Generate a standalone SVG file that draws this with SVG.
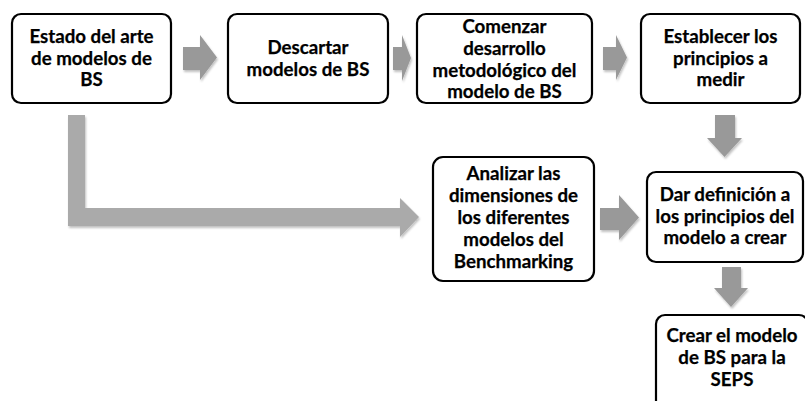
<svg xmlns="http://www.w3.org/2000/svg" width="805" height="401" viewBox="0 0 805 401">
<defs>
<style>
.box{fill:#fff;stroke:#000;stroke-width:2.2}
.t{font-family:Lato,"Liberation Sans",sans-serif;font-weight:bold;font-size:18.7px;fill:#000;stroke:#000;stroke-width:0.25;text-anchor:middle}
.ar{fill:#999999}
.al{fill:#aaaaaa}
</style>
<filter id="sh" x="-10%" y="-10%" width="130%" height="130%">
<feGaussianBlur in="SourceAlpha" stdDeviation="1.2"/>
<feOffset dx="1" dy="1.5" result="b"/>
<feComponentTransfer><feFuncA type="linear" slope="0.25"/></feComponentTransfer>
<feMerge><feMergeNode/><feMergeNode in="SourceGraphic"/></feMerge>
</filter>
</defs>
<rect width="805" height="401" fill="#fff"/>
<g id="connectors" filter="url(#sh)">
<polygon class="ar" points="183,47 200,47 200,35 217,57.5 200,80 200,70 183,70"/>
<polygon class="ar" points="393,47 402,47 402,35 411,58 402,81 402,70 393,70"/>
<polygon class="ar" points="603,47 616,47 616,35 627,57.5 616,80 616,70 603,70"/>
<polygon class="ar" points="715,115 735,115 735,138 742,138 724.5,157 707,138 715,138"/>
<polygon class="ar" points="600,208 619,208 619,195 639,217.5 619,240 619,230 600,230"/>
<polygon class="ar" points="722,267 741,267 741,288 748,288 731,307 714,288 722,288"/>
<polygon class="al" points="68,115 85,115 85,208 400,208 400,198 419,217 400,237 400,226 68,226"/>
</g>
<g id="n1">
<rect class="box" x="12" y="14" width="159" height="89" rx="9"/>
<text class="t" x="91.5" y="42.7">Estado del arte</text>
<text class="t" x="91.5" y="64.5">de modelos de</text>
<text class="t" x="91.5" y="86">BS</text>
</g>
<g id="n2">
<rect class="box" x="228" y="14" width="160" height="89" rx="9"/>
<text class="t" x="308" y="54">Descartar</text>
<text class="t" x="308" y="76">modelos de BS</text>
</g>
<g id="n3">
<rect class="box" x="417" y="14" width="175" height="89" rx="9"/>
<text class="t" x="504.5" y="33">Comenzar</text>
<text class="t" x="504.5" y="55">desarrollo</text>
<text class="t" x="504.5" y="76.5">metodológico del</text>
<text class="t" x="504.5" y="98">modelo de BS</text>
</g>
<g id="n4">
<rect class="box" x="641" y="14" width="159" height="89" rx="9"/>
<text class="t" x="720.5" y="43">Establecer los</text>
<text class="t" x="720.5" y="65">principios a</text>
<text class="t" x="720.5" y="86">medir</text>
</g>
<g id="n5">
<rect class="box" x="433" y="157" width="161" height="124" rx="10"/>
<text class="t" x="513.5" y="180">Analizar las</text>
<text class="t" x="513.5" y="202">dimensiones de</text>
<text class="t" x="513.5" y="224">los diferentes</text>
<text class="t" x="513.5" y="246">modelos del</text>
<text class="t" x="513.5" y="268">Benchmarking</text>
</g>
<g id="n6">
<rect class="box" x="647" y="172" width="156" height="90" rx="9"/>
<text class="t" x="725" y="201">Dar definición a</text>
<text class="t" x="725" y="222.5">los principios del</text>
<text class="t" x="725" y="244">modelo a crear</text>
</g>
<g id="n7">
<rect class="box" x="656" y="315" width="152" height="100" rx="9"/>
<text class="t" x="732" y="342">Crear el modelo</text>
<text class="t" x="732" y="364">de BS para la</text>
<text class="t" x="732" y="386">SEPS</text>
</g>
</svg>
